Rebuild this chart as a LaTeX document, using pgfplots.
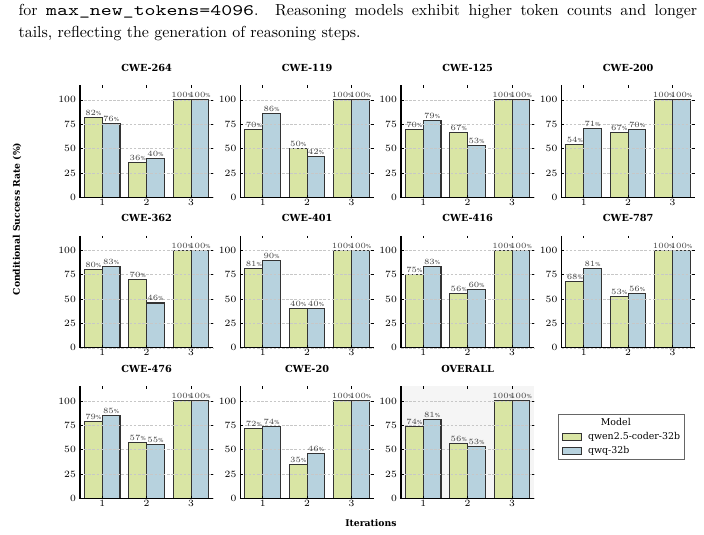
\documentclass[border=0pt]{standalone}
\usepackage{fontspec}
\usepackage{pgfplots}
\pgfplotsset{compat=1.18}
\newfontfamily\chartfont{DejaVu Serif}
\definecolor{cgreen}{RGB}{217,229,164}
\definecolor{cblue}{RGB}{183,210,222}
\pgfplotsset{
  panel/.style={
    scale only axis, width=83.58pt, height=70.22pt, anchor=south west,
    xmin=0.5, xmax=3.5, ymin=0, ymax=115,
    xtick={1,2,3}, ytick={0,25,50,75,100},
    ymajorgrids, grid style={dash pattern=on 1.6pt off 1pt, black!22, line width=0.35pt},
    axis on top,
    axis line style={draw=none},
    tick align=inside, major tick length=1.6pt, tick style={black, line width=0.45pt},
    ticklabel style={font=\chartfont\fontsize{6.2}{7}\selectfont},
    xticklabel style={inner sep=0.8pt},
    yticklabel style={inner sep=1pt, xshift=-1.4pt},
    title style={font=\chartfont\bfseries\fontsize{6.1}{7}\selectfont, anchor=base, at={(0.5,1)}, yshift=2.8pt, inner sep=0pt},
    after end axis/.code={\draw[black, line width=0.8pt] (rel axis cs:0,1) -- (rel axis cs:0,0) -- (rel axis cs:1,0);},
    nodes near coords={\pgfmathprintnumber[fixed,precision=0]{\pgfplotspointmeta}\%},
    nodes near coords align={vertical},
    every node near coord/.append style={font=\chartfont\fontsize{3.45}{4}\selectfont, text=black!75, inner xsep=0pt, inner ysep=0.9pt},
  },
  gbar/.style={ybar, bar width=0.4, bar shift=0, fill=cgreen, draw=black!80, line width=0.65pt},
  bbar/.style={ybar, bar width=0.4, bar shift=0, fill=cblue, draw=black!80, line width=0.65pt},
}
\begin{document}
\begin{tikzpicture}
\useasboundingbox (0,0) rectangle (441.41pt,334.82pt);
\node[anchor=base west, inner sep=0] at (11.47pt,324.79pt) {\fontsize{10}{12}\selectfont\makebox[425.5pt][s]{for \resizebox{130.4pt}{\height}{\texttt{max\_new\_tokens=4096}}. Reasoning models exhibit higher token counts and longer}};
\node[anchor=base west, inner sep=0] at (11.47pt,311.43pt) {\fontsize{10}{12}\selectfont tails, reflecting the generation of reasoning steps.};

% Row 1
\begin{axis}[panel, at={(50.16pt,211.11pt)}, title={CWE-264}]
\addplot[gbar] coordinates {(0.8,82) (1.8,36) (2.8,100)};
\addplot[bbar] coordinates {(1.2,76) (2.2,40) (3.2,100)};
\end{axis}
\begin{axis}[panel, at={(150.79pt,211.11pt)}, title={CWE-119}, yticklabel={}]
\addplot[gbar] coordinates {(0.8,70) (1.8,50) (2.8,100)};
\addplot[bbar] coordinates {(1.2,86) (2.2,42) (3.2,100)};
\end{axis}
\begin{axis}[panel, at={(251.43pt,211.11pt)}, title={CWE-125}, yticklabel={}]
\addplot[gbar] coordinates {(0.8,70) (1.8,67) (2.8,100)};
\addplot[bbar] coordinates {(1.2,79) (2.2,53) (3.2,100)};
\end{axis}
\begin{axis}[panel, at={(352.06pt,211.11pt)}, title={CWE-200}, yticklabel={}]
\addplot[gbar] coordinates {(0.8,54) (1.8,67) (2.8,100)};
\addplot[bbar] coordinates {(1.2,71) (2.2,70) (3.2,100)};
\end{axis}

% Row 2
\begin{axis}[panel, at={(50.16pt,116.75pt)}, title={CWE-362}]
\addplot[gbar] coordinates {(0.8,80) (1.8,70) (2.8,100)};
\addplot[bbar] coordinates {(1.2,83) (2.2,46) (3.2,100)};
\end{axis}
\begin{axis}[panel, at={(150.79pt,116.75pt)}, title={CWE-401}, yticklabel={}]
\addplot[gbar] coordinates {(0.8,81) (1.8,40) (2.8,100)};
\addplot[bbar] coordinates {(1.2,90) (2.2,40) (3.2,100)};
\end{axis}
\begin{axis}[panel, at={(251.43pt,116.75pt)}, title={CWE-416}, yticklabel={}]
\addplot[gbar] coordinates {(0.8,75) (1.8,56) (2.8,100)};
\addplot[bbar] coordinates {(1.2,83) (2.2,60) (3.2,100)};
\end{axis}
\begin{axis}[panel, at={(352.06pt,116.75pt)}, title={CWE-787}, yticklabel={}]
\addplot[gbar] coordinates {(0.8,68) (1.8,53) (2.8,100)};
\addplot[bbar] coordinates {(1.2,81) (2.2,56) (3.2,100)};
\end{axis}

% Row 3
\begin{axis}[panel, at={(50.16pt,22.38pt)}, title={CWE-476}]
\addplot[gbar] coordinates {(0.8,79) (1.8,57) (2.8,100)};
\addplot[bbar] coordinates {(1.2,85) (2.2,55) (3.2,100)};
\end{axis}
\begin{axis}[panel, at={(150.79pt,22.38pt)}, title={CWE-20}, yticklabel={}]
\addplot[gbar] coordinates {(0.8,72) (1.8,35) (2.8,100)};
\addplot[bbar] coordinates {(1.2,74) (2.2,46) (3.2,100)};
\end{axis}
\begin{axis}[panel, at={(251.43pt,22.38pt)}, title={OVERALL}, yticklabel={},
  axis background/.style={fill=black!4},
  legend style={at={(1.178,0.547)}, anchor=west, draw=black!60, line width=0.5pt, fill=white,
    font=\chartfont\fontsize{5.9}{6}\selectfont, inner xsep=2pt, inner ysep=1.8pt, row sep=1.6pt,
    nodes={inner sep=0.6pt},
    /tikz/every odd column/.append style={column sep=3.6pt}},
  legend cell align=left,
  legend image code/.code={\draw[#1, line width=0.5pt] (0pt,-2.1pt) rectangle (11.9pt,2.1pt);},
]
\addlegendimage{empty legend}
\addplot[gbar] coordinates {(0.8,74) (1.8,56) (2.8,100)};
\addplot[bbar] coordinates {(1.2,81) (2.2,53) (3.2,100)};
\legend{\hspace*{8pt}Model, qwen2.5-coder-32b, qwq-32b}
\end{axis}

\node[rotate=90, anchor=center] at (10.66pt,197.5pt) {\chartfont\bfseries\fontsize{5.8}{6}\selectfont Conditional Success Rate (\%)};
\node[anchor=base] at (232.6pt,4.4pt) {\chartfont\bfseries\fontsize{5.8}{6}\selectfont Iterations};
\end{tikzpicture}
\end{document}
